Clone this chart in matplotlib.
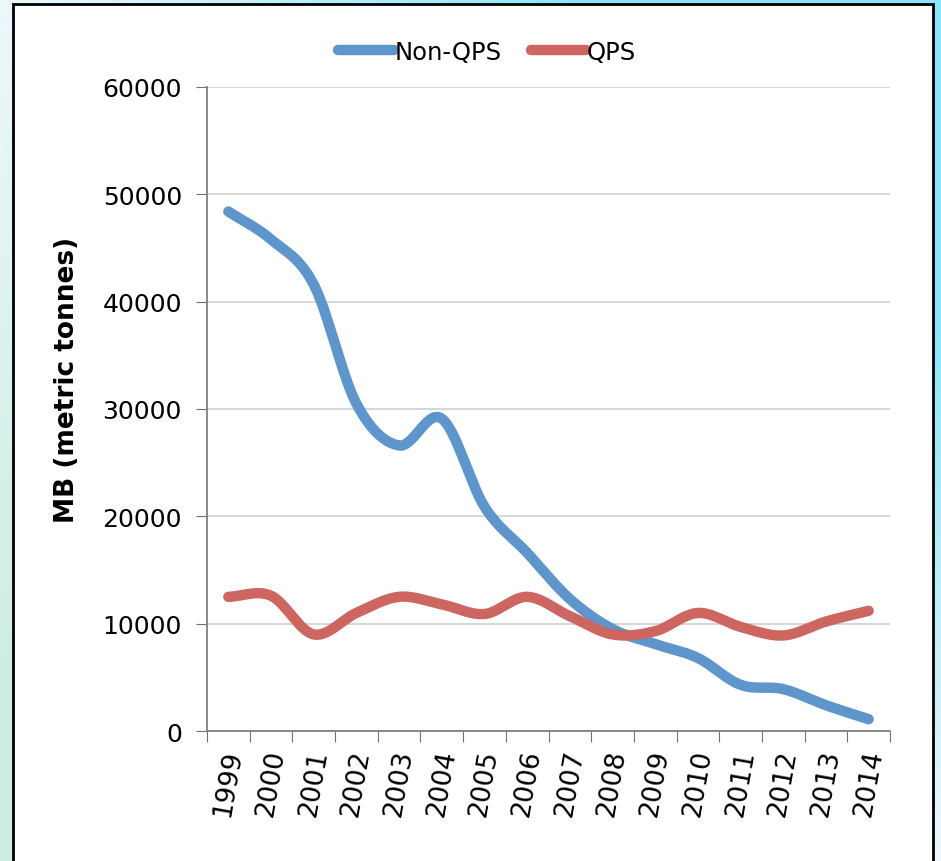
"""Non-QPS vs QPS methyl bromide consumption, 1999-2014."""
import matplotlib.pyplot as plt
import numpy as np
from matplotlib.patches import Rectangle

years = ['1999', '2000', '2001', '2002', '2003', '2004', '2005', '2006',
         '2007', '2008', '2009', '2010', '2011', '2012', '2013', '2014']
non_qps = [48400, 45800, 41600, 30500, 26600, 29100, 20900, 16600,
           12300, 9500, 8100, 6800, 4300, 3900, 2400, 1100]
qps = [12500, 12600, 9000, 11000, 12500, 11800, 10900, 12500,
       10700, 9000, 9300, 11000, 9700, 8900, 10200, 11200]

BLUE = '#5E95CA'
RED = '#CD6660'


def smooth(y, n=30):
    """Catmull-Rom curve through the points, like Excel's smoothed line."""
    y = np.asarray(y, float)
    x = np.arange(len(y), dtype=float)
    p = np.concatenate([[2 * y[0] - y[1]], y, [2 * y[-1] - y[-2]]])
    xs, ys = [], []
    for i in range(len(y) - 1):
        t = np.linspace(0, 1, n, endpoint=False)
        p0, p1, p2, p3 = p[i], p[i + 1], p[i + 2], p[i + 3]
        seg = 0.5 * (2 * p1 + (-p0 + p2) * t + (2 * p0 - 5 * p1 + 4 * p2 - p3) * t ** 2
                     + (-p0 + 3 * p1 - 3 * p2 + p3) * t ** 3)
        xs.append(x[i] + t)
        ys.append(seg)
    xs.append([x[-1]])
    ys.append([y[-1]])
    return np.concatenate(xs), np.concatenate(ys)


plt.rcParams['font.family'] = 'DejaVu Sans'
fig = plt.figure(figsize=(9.41, 8.62), dpi=100)

# slide background gradient
bg = fig.add_axes([0, 0, 1, 1], zorder=-2)
gx = np.linspace(0, 1, 200)
gy = np.linspace(0, 1, 200)
GX, GY = np.meshgrid(gx, gy)
c0 = np.array([0.93, 0.97, 0.99])
c1 = np.array([0.55, 0.90, 0.98])
c2 = np.array([0.80, 0.93, 0.88])
w1 = np.clip(GX * (1 - GY) * 1.6, 0, 1)[..., None]
w2 = np.clip((1 - GX) * GY * 1.2, 0, 1)[..., None]
img = c0 * (1 - w1) + c1 * w1
img = img * (1 - w2) + c2 * w2
bg.imshow(img, extent=[0, 1, 0, 1], aspect='auto', origin='upper')
bg.axis('off')

# white chart panel with black border
fig.patches.append(Rectangle((13 / 941, -0.01), 920 / 941, 1 - 5 / 862 + 0.01,
                             transform=fig.transFigure, facecolor='white',
                             edgecolor='black', linewidth=2, zorder=-1))

ax = fig.add_axes([207 / 941, 1 - 732 / 862, 683 / 941, 644 / 862])
ax.set_facecolor('none')

x = np.arange(len(years))
sx, sy = smooth(non_qps)
ax.plot(sx, sy, color=BLUE, lw=7.5, solid_capstyle='round', label='Non-QPS')
sx, sy = smooth(qps)
ax.plot(sx, sy, color=RED, lw=7.5, solid_capstyle='round', label='QPS')

ax.set_xlim(-0.5, len(years) - 0.5)
ax.set_ylim(0, 60000)
ax.set_yticks(range(0, 60001, 10000))
ax.yaxis.grid(True, color='#D0D0D0', lw=1.2)
ax.set_axisbelow(True)

ax.set_xticks(np.arange(-0.5, len(years), 1))
ax.set_xticklabels([])
ax.set_xticks(x, minor=True)
ax.set_xticklabels(years, minor=True, rotation=80, ha='center', va='top', fontsize=19)
ax.tick_params(axis='x', which='major', length=8, direction='out', color='#707070')
ax.tick_params(axis='x', which='minor', length=0, pad=12)
ax.tick_params(axis='y', length=8, direction='out', color='#707070', labelsize=18, pad=10)

for s in ['top', 'right']:
    ax.spines[s].set_visible(False)
for s in ['left', 'bottom']:
    ax.spines[s].set_color('#808080')
    ax.spines[s].set_linewidth(1.3)

ax.set_ylabel('MB (metric tonnes)', fontsize=19, fontweight='bold')
ax.yaxis.set_label_coords(-0.186, 0.547)

ax.legend(loc='center', bbox_to_anchor=(0.41, 1.055), ncol=2, frameon=False,
          fontsize=17.5, handlelength=2.3, handletextpad=0.0, columnspacing=1.2)

plt.savefig('out.png', dpi=100, facecolor='white')
plt.close()
